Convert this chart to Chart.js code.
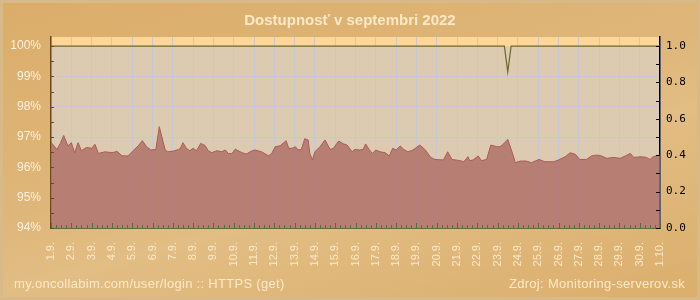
<!DOCTYPE html>
<html lang="sk">
<head>
  <meta charset="UTF-8">
  <title>Dostupnosť v septembri 2022</title>
  <script src="https://cdn.jsdelivr.net/npm/chart.js"></script>
  <style>
    body { margin: 0; }
    #wrap {
      position: relative; width: 700px; height: 300px; box-sizing: border-box;
      border: 3px solid #d8ba88;
      background: linear-gradient(165deg, #dbad69 0%, #dfb67a 45%, #e2bd84 60%, #dbae6c 100%);
      font-family: "Liberation Sans", Arial, sans-serif;
    }
    #chart { position: absolute; left: -3px; top: -3px; }
    .txt { position: absolute; color: #fbe9c8; white-space: nowrap; }
    #title { left: 0; width: 694px; top: 8px; text-align: center; font-weight: bold; font-size: 15px; }
    #src { left: 11px; top: 273px; font-size: 13px; letter-spacing: 0.3px; }
    #zdroj { right: 12px; top: 273px; font-size: 13px; letter-spacing: 0.3px; }
  </style>
</head>
<body>
  <div id="wrap">
    <canvas id="chart" width="700" height="300"></canvas>
    <div class="txt" id="title">Dostupnosť v septembri 2022</div>
    <div class="txt" id="src">my.oncollabim.com/user/login :: HTTPS (get)</div>
    <div class="txt" id="zdroj">Zdroj: Monitoring-serverov.sk</div>
  </div>

  <script>
    // hodiny od 1.9. 00:00
    const dayLabels = ["1.9.","2.9.","3.9.","4.9.","5.9.","6.9.","7.9.","8.9.","9.9.","10.9.",
      "11.9.","12.9.","13.9.","14.9.","15.9.","16.9.","17.9.","18.9.","19.9.","20.9.",
      "21.9.","22.9.","23.9.","24.9.","25.9.","26.9.","27.9.","28.9.","29.9.","30.9.","1.10."];

    // odozva (s), prava os
    const respHours = [0,7,11,15,20,24,28,32,36,42,48,52,56,64,72,78,84,91,97,103,108,113,118,
      124,128,131,135,138,145,151,153,156,160,164,168,172,177,182,186,190,196,202,206,210,214,218,221,226,231,237,241,
      249,257,261,265,271,278,281,285,289,292,296,300,304,306,309,312,318,324,330,334,340,346,350,356,359,
      365,369,372,376,380,384,389,395,400,404,408,413,417,422,428,436,442,449,454,464,469,474,484,488,493,
      495,499,505,509,515,520,527,531,535,540,545,549,555,562,568,577,584,594,600,608,614,620,
      625,633,639,645,651,657,665,673,679,685,689,698,704,708,712,719,720];
    const respValues = [0.471,0.432,0.465,0.509,0.451,0.469,0.414,0.469,0.425,0.443,0.438,0.460,0.410,0.419,0.414,0.421,0.397,0.396,0.425,0.451,0.480,0.447,0.429,
      0.432,0.557,0.502,0.429,0.419,0.423,0.432,0.438,0.469,0.438,0.425,0.438,0.425,0.465,0.454,0.425,0.414,0.425,0.419,0.429,0.408,0.410,0.434,0.425,0.414,0.407,0.423,0.429,
      0.419,0.397,0.410,0.447,0.452,0.480,0.438,0.438,0.447,0.429,0.432,0.491,0.484,0.410,0.374,0.419,0.447,0.484,0.432,0.438,0.478,0.462,0.456,0.419,0.432,
      0.429,0.432,0.462,0.432,0.410,0.429,0.419,0.414,0.396,0.438,0.429,0.451,0.432,0.419,0.429,0.456,0.432,0.388,0.377,0.374,0.419,0.377,0.370,0.364,0.392,
      0.370,0.374,0.396,0.370,0.377,0.456,0.447,0.447,0.462,0.487,0.419,0.359,0.368,0.368,0.359,0.377,0.364,0.364,0.374,0.392,0.414,0.405,
      0.377,0.377,0.396,0.401,0.396,0.383,0.388,0.383,0.396,0.410,0.388,0.392,0.388,0.377,0.392,0.401,0.401];

    // dostupnost (%), lava os
    const availHours = [0, 536, 540, 544, 720];
    const availValues = [100, 100, 99.15, 100, 100];

    const leftTicks = [94, 95, 96, 97, 98, 99, 100];
    const rightTicks = [0, 0.2, 0.4, 0.6, 0.8, 1.0];

    const toPts = (xs, ys) => xs.map((x, i) => ({ x: x, y: ys[i] }));
    const isStep = (v, s) => Math.abs(v / s - Math.round(v / s)) < 1e-6;
    const steps = (from, to, step) => {
      const out = [];
      for (let i = 0; from + i * step <= to + 1e-9; i++) out.push({ value: +(from + i * step).toFixed(4) });
      return out;
    };

    // pozadie plochy grafu
    const bgPlugin = {
      id: 'bg',
      beforeDraw(chart) {
        const { ctx, chartArea: a, scales } = chart;
        const y100 = scales.y.getPixelForValue(100);
        ctx.save();
        ctx.fillStyle = '#dccbb1';
        ctx.fillRect(a.left, a.top, a.right - a.left, a.bottom - a.top);
        ctx.fillStyle = '#fdd698';
        ctx.fillRect(a.left, a.top, a.right - a.left, y100 - a.top);
        ctx.restore();
      }
    };

    // ciarky osi dovnutra grafu
    const innerTicks = {
      id: 'innerTicks',
      afterDraw(chart) {
        const { ctx, chartArea: a, scales } = chart;
        ctx.save();
        ctx.lineWidth = 1;
        ctx.strokeStyle = '#4f7040';
        scales.x.ticks.forEach(t => {
          const x = Math.round(scales.x.getPixelForValue(t.value)) + 0.5;
          const len = t.value % 24 === 0 ? 5 : 3;
          ctx.beginPath(); ctx.moveTo(x, a.bottom); ctx.lineTo(x, a.bottom - len); ctx.stroke();
        });
        ctx.strokeStyle = '#6a4a1c';
        scales.y.ticks.forEach(t => {
          const y = Math.round(scales.y.getPixelForValue(t.value)) + 0.5;
          ctx.beginPath(); ctx.moveTo(a.left, y); ctx.lineTo(a.left + 3, y); ctx.stroke();
        });
        ctx.strokeStyle = '#000';
        scales.y1.ticks.forEach(t => {
          const y = Math.round(scales.y1.getPixelForValue(t.value)) + 0.5;
          ctx.beginPath(); ctx.moveTo(a.right - 4, y); ctx.lineTo(a.right, y); ctx.stroke();
        });
        ctx.restore();
      }
    };

    new Chart(document.getElementById('chart'), {
      type: 'line',
      data: {
        datasets: [
          {
            data: toPts(availHours, availValues),
            yAxisID: 'y',
            borderColor: '#6b6a2a',
            borderWidth: 1.2,
            pointRadius: 0,
            fill: false,
            tension: 0
          },
          {
            data: toPts(respHours, respValues),
            yAxisID: 'y1',
            borderColor: '#a95d56',
            borderWidth: 1,
            backgroundColor: 'rgba(175,109,103,0.82)',
            pointRadius: 0,
            fill: 'start',
            tension: 0
          }
        ]
      },
      options: {
        responsive: false,
        animation: false,
        layout: { padding: { top: 37, left: 0, right: 0, bottom: 0 } },
        plugins: { legend: { display: false }, tooltip: { enabled: false } },
        scales: {
          x: {
            type: 'linear', min: 0, max: 720,
            afterBuildTicks: s => { s.ticks = steps(0, 720, 6); },
            afterFit: s => { s.height = 72; },
            border: { color: '#5e6b3a', width: 1 },
            grid: {
              drawTicks: false,
              color: c => (c.tick && c.tick.value % 24 === 0) ? '#c9c7d2' : 'rgba(0,0,0,0)'
            },
            ticks: {
              autoSkip: false,
              minRotation: 90, maxRotation: 90, padding: 14,
              color: '#fbe9c8',
              font: { family: '"Liberation Sans", Arial, sans-serif', size: 11 },
              callback: v => v % 24 === 0 ? dayLabels[v / 24] : ''
            }
          },
          y: {
            position: 'left', min: 94, max: 100.3,
            afterBuildTicks: s => { s.ticks = steps(94, 100, 0.5); },
            afterFit: s => { s.width = 51; },
            border: { color: '#6a4a1c', width: 1.5 },
            grid: {
              drawTicks: false,
              color: c => (c.tick && isStep(c.tick.value, 1) && c.tick.value < 100) ? '#c9c7d2' : 'rgba(0,0,0,0)'
            },
            ticks: {
              autoSkip: false, padding: 10,
              color: '#fdf0dc',
              font: { family: '"Liberation Sans", Arial, sans-serif', size: 12 },
              callback: v => leftTicks.includes(v) ? v + '%' : ''
            }
          },
          y1: {
            position: 'right', min: 0, max: 1.05,
            afterBuildTicks: s => { s.ticks = steps(0, 1, 0.1); },
            afterFit: s => { s.width = 40; },
            border: { color: '#000', width: 1.5 },
            grid: { drawOnChartArea: false, drawTicks: false },
            ticks: {
              autoSkip: false, padding: 6,
              color: '#000',
              font: { family: '"DejaVu Sans Mono", monospace', size: 11 },
              callback: v => rightTicks.some(r => Math.abs(r - v) < 1e-6) ? v.toFixed(1) : ''
            }
          }
        }
      },
      plugins: [bgPlugin, innerTicks]
    });
  </script>
</body>
</html>
